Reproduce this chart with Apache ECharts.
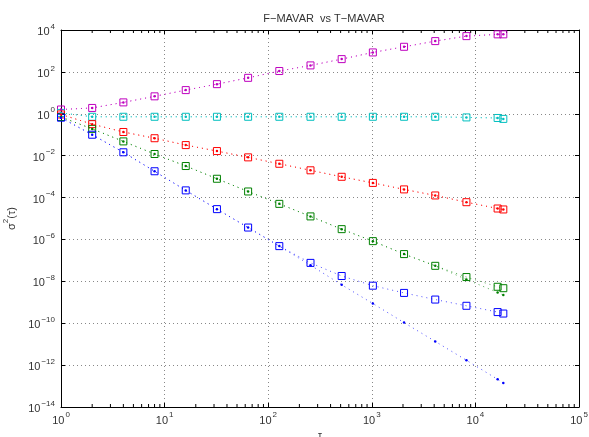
<!DOCTYPE html>
<html>
<head>
<meta charset="utf-8">
<script src="https://cdn.jsdelivr.net/npm/echarts@6/dist/echarts.min.js"></script>
<style>
html, body { margin: 0; padding: 0; background: #fff; }
#main { width: 589px; height: 437px; }
</style>
</head>
<body>
<div id="main"></div>
<script>
// averaging times
var tau = [1, 2, 4, 8, 16, 32, 64, 128, 256, 512, 1024, 2048, 4096, 8192, 16384, 18600]

// squares (F-MAVAR)
var magentaSq = [1.6, 1.9, 3.5, 6.8, 13.5, 26, 52, 110, 204, 407, 850, 1580, 2950, 5100, 6200, 6200]
var cyanSq = [1.1, 0.72, 0.72, 0.72, 0.72, 0.72, 0.72, 0.72, 0.72, 0.72, 0.72, 0.72, 0.72, 0.67, 0.63, 0.57]
var redSq = [0.93, 0.32, 0.135, 0.068, 0.032, 0.0166, 0.0083, 0.0041, 0.002, 9.8e-4, 5e-4, 2.45e-4, 1.26e-4, 6e-5, 3e-5, 2.7e-5]
var greenSq = [0.7, 0.19, 0.048, 0.012, 3.2e-3, 7.9e-4, 1.95e-4, 5e-5, 1.26e-5, 3.1e-6, 8.3e-7, 2.0e-7, 5.5e-8, 1.6e-8, 5.5e-9, 4.7e-9]
var blueSq = [0.65, 0.10, 0.0145, 1.8e-3, 2.2e-4, 2.8e-5, 3.7e-6, 4.8e-7, 7.6e-8, 1.8e-8, 6.2e-9, 2.8e-9, 1.35e-9, 6.8e-10, 3.4e-10, 2.9e-10]

// dots (T-MAVAR)
var magentaDot = [1.6, 1.9, 3.5, 6.8, 13.5, 26, 52, 110, 204, 407, 850, 1580, 2950, 5100, 6200, 6200]
var cyanDot = [1.1, 0.72, 0.72, 0.72, 0.72, 0.72, 0.72, 0.72, 0.72, 0.72, 0.72, 0.72, 0.72, 0.67, 0.63, 0.57]
var redDot = [0.93, 0.32, 0.135, 0.068, 0.032, 0.0166, 0.0083, 0.0041, 0.002, 9.8e-4, 5e-4, 2.45e-4, 1.26e-4, 6e-5, 3e-5, 2.7e-5]
var greenDot = [0.7, 0.19, 0.048, 0.012, 3.2e-3, 7.9e-4, 1.95e-4, 5e-5, 1.26e-5, 3.1e-6, 8.3e-7, 2.0e-7, 5.5e-8, 1.23e-8, 2.95e-9, 2.2e-9]
var blueDot = [0.65, 0.10, 0.0145, 1.8e-3, 2.2e-4, 2.8e-5, 3.7e-6, 4.8e-7, 5.9e-8, 6.8e-9, 8.7e-10, 1.07e-10, 1.35e-11, 1.7e-12, 2.1e-13, 1.4e-13]

// axis ranges (decade exponents)
var xExp = [0, 5]
var yExp = [-14, 4]

var xMin = Math.pow(10, xExp[0]), xMax = Math.pow(10, xExp[1])
var yMin = Math.pow(10, yExp[0]), yMax = Math.pow(10, yExp[1])

var FONT = 'Liberation Sans'

function expLabel(v) {
  var e = Math.round(Math.log10(v))
  return '{b|10}{s|' + String(e).replace('-', '\u2212') + '}'
}
var labelRich = {
  b: { fontSize: 11, fontFamily: FONT, color: '#333', lineHeight: 15, verticalAlign: 'bottom' },
  s: { fontSize: 8, fontFamily: FONT, color: '#333', lineHeight: 15, verticalAlign: 'top', padding: [0, 0, 0, 1] }
}

function pts(values) {
  return tau.map(function (t, i) { return [t, values[i]] })
}

function sqSeries(color, values) {
  return {
    type: 'line',
    data: pts(values),
    symbol: 'rect',
    symbolSize: 7,
    itemStyle: { color: 'rgba(0,0,0,0)', borderColor: color, borderWidth: 1 },
    lineStyle: { color: color, width: 1, type: [1, 4], opacity: 0.7 },
    z: 3
  }
}
function dotSeries(color, values) {
  return {
    type: 'line',
    data: pts(values),
    symbol: 'circle',
    symbolSize: 2.5,
    itemStyle: { color: color },
    lineStyle: { color: color, width: 1, type: [1, 4], opacity: 0.7 },
    z: 4
  }
}

// minor ticks of the log x axis (2..9 in each decade)
var minorX = []
for (var e = xExp[0]; e < xExp[1]; e++) {
  for (var k = 2; k <= 9; k++) minorX.push([k * Math.pow(10, e), 1])
}

var myChart = echarts.init(document.getElementById('main'))
var option = {
  animation: false,
  backgroundColor: '#fff',
  title: {
    text: 'F\u2212MAVAR  vs T\u2212MAVAR',
    left: 319,
    top: 8,
    textAlign: 'center',
    textStyle: { fontSize: 11, fontWeight: 'normal', color: '#333', fontFamily: FONT }
  },
  grid: { left: 61, right: 10, top: 30, bottom: 30, containLabel: false, outerBoundsMode: 'none' },
  xAxis: [{
    type: 'log',
    logBase: 10,
    min: xMin,
    max: xMax,
    interval: 1,
    name: '\u03c4',
    nameLocation: 'middle',
    nameGap: 23,
    nameTextStyle: { fontSize: 10, color: '#333', fontFamily: FONT },
    axisLine: { onZero: false, lineStyle: { color: '#000', width: 1 } },
    axisTick: { inside: true, length: 4, lineStyle: { color: '#000' } },
    axisLabel: { formatter: expLabel, rich: labelRich, margin: 4 },
    splitLine: { show: true, lineStyle: { color: '#888', type: [1, 3], width: 1 } }
  }, {
    type: 'log',
    logBase: 10,
    min: xMin,
    max: xMax,
    interval: 1,
    position: 'top',
    axisLine: { onZero: false, lineStyle: { color: '#000', width: 1 } },
    axisTick: { inside: true, length: 4, lineStyle: { color: '#000' } },
    axisLabel: { show: false },
    splitLine: { show: false }
  }],
  yAxis: [{
    type: 'log',
    logBase: 10,
    min: yMin,
    max: yMax,
    interval: 2,
    name: '{a|\u03c3}{s|2}{a|(\u03c4)}',
    nameLocation: 'middle',
    nameRotate: 90,
    nameGap: 42,
    nameTextStyle: {
      rich: {
        a: { fontSize: 11, color: '#333', fontFamily: FONT, lineHeight: 15, verticalAlign: 'bottom' },
        s: { fontSize: 8, color: '#333', fontFamily: FONT, lineHeight: 15, verticalAlign: 'top' }
      }
    },
    axisLine: { onZero: false, lineStyle: { color: '#000', width: 1 } },
    axisTick: { inside: true, length: 4, lineStyle: { color: '#000' } },
    axisLabel: { formatter: expLabel, rich: labelRich, margin: 6 },
    splitLine: { show: true, lineStyle: { color: '#888', type: [1, 3], width: 1 } }
  }, {
    type: 'log',
    logBase: 10,
    min: yMin,
    max: yMax,
    interval: 2,
    position: 'right',
    axisLine: { onZero: false, lineStyle: { color: '#000', width: 1 } },
    axisTick: { inside: true, length: 4, lineStyle: { color: '#000' } },
    axisLabel: { show: false },
    splitLine: { show: false }
  }],
  series: [
    sqSeries('#bf00bf', magentaSq),
    sqSeries('#00bfbf', cyanSq),
    sqSeries('#ff0000', redSq),
    sqSeries('#008000', greenSq),
    sqSeries('#0000ff', blueSq),
    dotSeries('#bf00bf', magentaDot),
    dotSeries('#00bfbf', cyanDot),
    dotSeries('#ff0000', redDot),
    dotSeries('#008000', greenDot),
    dotSeries('#0000ff', blueDot),
    {
      type: 'custom',
      silent: true,
      clip: false,
      data: minorX,
      encode: { x: 0, y: 1 },
      renderItem: function (params, api) {
        var b = api.coord([api.value(0), yMin])
        var t = api.coord([api.value(0), yMax])
        return {
          type: 'group',
          children: [
            { type: 'line', shape: { x1: b[0], y1: b[1], x2: b[0], y2: b[1] - 3 }, style: { stroke: '#000', lineWidth: 1 } },
            { type: 'line', shape: { x1: t[0], y1: t[1], x2: t[0], y2: t[1] + 3 }, style: { stroke: '#000', lineWidth: 1 } }
          ]
        }
      }
    }
  ]
}
myChart.setOption(option)
</script>
</body>
</html>
